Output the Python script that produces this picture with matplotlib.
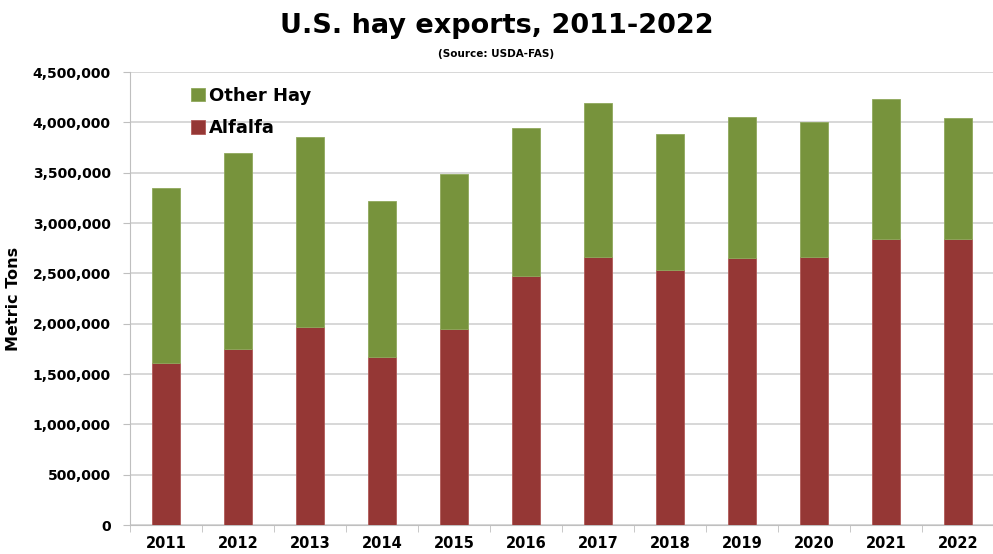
import numpy as np
import matplotlib.pyplot as plt
from matplotlib.ticker import FuncFormatter

# Datos (toneladas metricas)
years = ['2011', '2012', '2013', '2014', '2015', '2016',
         '2017', '2018', '2019', '2020', '2021', '2022']
alfalfa = [1613000, 1753000, 1970000, 1673000, 1952000, 2470000,
           2664000, 2532000, 2657000, 2664000, 2846000, 2846000]
total = [3350000, 3695000, 3855000, 3217000, 3486000, 3944000,
         4190000, 3887000, 4050000, 4006000, 4235000, 4040000]
other_hay = [t - a for t, a in zip(total, alfalfa)]

green = '#77933C'
red = '#953735'

fig = plt.figure(figsize=(9.93, 5.54), dpi=100)
ax = fig.add_axes([0.131, 0.052, 0.87, 0.818])

x = np.arange(len(years))
w = 0.4
ax.bar(x, alfalfa, w, color=red, edgecolor='#b05a58', linewidth=0.6,
       label='Alfalfa', zorder=3)
ax.bar(x, other_hay, w, bottom=alfalfa, color=green, edgecolor='#8fa85c',
       linewidth=0.6, label='Other Hay', zorder=3)

ax.set_xlim(-0.5, 11.5)
ax.set_ylim(0, 4500000)
ax.set_yticks(np.arange(0, 4500001, 500000))
ax.yaxis.set_major_formatter(FuncFormatter(lambda v, p: f'{int(v):,}'))
ax.set_xticks(x)
ax.set_xticklabels(years)
ax.set_xticks(np.arange(-0.5, 12, 1), minor=True)
ax.tick_params(axis='x', which='major', length=0, pad=8)
ax.tick_params(axis='x', which='minor', length=5, color='#bfbfbf')
ax.tick_params(axis='y', length=5, color='#bfbfbf', pad=9)
for lab in ax.get_xticklabels():
    lab.set_fontweight('bold')
    lab.set_fontsize(10.5)
for lab in ax.get_yticklabels():
    lab.set_fontweight('bold')
    lab.set_fontsize(10)

ax.grid(axis='y', color='#d4d4d4', linewidth=1.3, zorder=0)
for s in ['top', 'right']:
    ax.spines[s].set_visible(False)
ax.spines['left'].set_color('#bfbfbf')
ax.spines['bottom'].set_color('#bfbfbf')

ax.set_ylabel('Metric Tons', fontsize=11.5, fontweight='bold', labelpad=8)

h, l = ax.get_legend_handles_labels()
leg = ax.legend(h[::-1], l[::-1], loc='upper left', bbox_to_anchor=(0.052, 1.003),
                frameon=False, prop={'weight': 'bold', 'size': 13},
                handlelength=0.75, handleheight=0.75, handletextpad=0.25,
                labelspacing=0.8)

fig.text(0.5, 0.953, 'U.S. hay exports, 2011-2022', ha='center', va='center',
         fontsize=19.5, fontweight='bold')
fig.text(0.5, 0.902, '(Source: USDA-FAS)', ha='center', va='center',
         fontsize=7.5, fontweight='bold')

plt.savefig('out.png', dpi=100)
